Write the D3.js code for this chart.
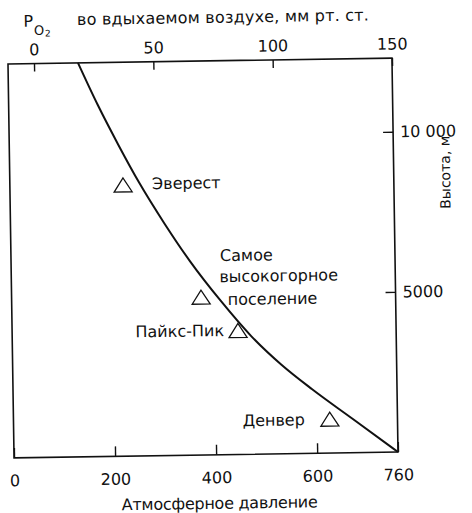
<!DOCTYPE html>
<html>
<head>
<meta charset="utf-8">
<script src="https://cdn.jsdelivr.net/npm/d3@7"></script>
<style>
  html, body { margin: 0; padding: 0; background: #fff; }
  svg { display: block; }
  text { font-family: "DejaVu Sans", sans-serif; fill: #111; }
</style>
</head>
<body>
<svg id="chart" width="472" height="513"></svg>
<script>
// ---- data ----
const pressureTicks = [0, 200, 400, 600, 760];
const po2Ticks = [0, 50, 100, 150];
const altitudeTicks = [5000, 10000];
const altitudeTickLabels = ["5000", "10 000"];
const curvePressure = [138.5, 176, 216, 255, 305, 354, 414, 473, 532, 592, 671, 760];
const curveAltitude = [12300, 10990, 9720, 8560, 7240, 6060, 4800, 3690, 2780, 2000, 1060, 0];
const siteNames = [["Эверест"], ["Самое", "высокогорное", "поселение"], ["Пайкс-Пик"], ["Денвер"]];
const sitePressure = [224, 375, 447, 626];
const siteAltitude = [8470, 4930, 3870, 1060];
const titleTop = "во вдыхаемом воздухе, мм рт. ст.";
const titleBottom = "Атмосферное давление";
const titleRight = "Высота, м";

// ---- layout ----
const L = 11, R = 395, T = 61, B = 455;
const svg = d3.select("#chart");
const root = svg.append("g").attr("transform", "rotate(-0.88, 203, 258)");

const x = d3.scaleLinear().domain([0, 760]).range([L, R]);
const xTop = d3.scaleLinear().domain([0, 150]).range([37, R]);
const y = d3.scaleLinear().domain([0, 12300]).range([B, T]);

// box
root.append("rect").attr("x", L).attr("y", T).attr("width", R - L).attr("height", B - T)
  .attr("fill", "none").attr("stroke", "#111").attr("stroke-width", 1.6);

function styleAxis(g) {
  g.select(".domain").remove();
  g.selectAll(".tick line").attr("stroke", "#111").attr("stroke-width", 1.4);
  g.selectAll(".tick text").attr("font-size", 16).attr("font-family", "DejaVu Sans, sans-serif").attr("fill", "#111");
}

root.append("g").attr("transform", `translate(0,${B})`)
  .call(d3.axisBottom(x).tickValues(pressureTicks).tickFormat(d3.format("d")).tickSize(-10).tickSizeOuter(0).tickPadding(17))
  .call(styleAxis);

root.append("g").attr("transform", `translate(0,${T})`)
  .call(d3.axisTop(xTop).tickValues(po2Ticks).tickFormat(d3.format("d")).tickSize(-8).tickSizeOuter(0).tickPadding(8.5))
  .call(styleAxis);

root.append("g").attr("transform", `translate(${R},0)`)
  .call(d3.axisRight(y).tickValues(altitudeTicks).tickFormat((d, i) => altitudeTickLabels[i]).tickSize(-10).tickSizeOuter(0).tickPadding(7))
  .call(styleAxis);

// curve
const curveData = curvePressure.map((p, i) => ({ p, h: curveAltitude[i] }));
root.append("path").datum(curveData)
  .attr("fill", "none").attr("stroke", "#111").attr("stroke-width", 2)
  .attr("d", d3.line().x(d => x(d.p)).y(d => y(d.h)).curve(d3.curveMonotoneX));

// sites
const labelLayout = [
  { anchor: "start", lines: [[29, 4.7]] },
  { anchor: "start", lines: [[19.6, -35.7], [18.6, -14.7], [26.6, 8.3]] },
  { anchor: "end", lines: [[-14, 5.3]] },
  { anchor: "end", lines: [[-25, 5.7]] }
];
const sites = siteNames.map((n, i) => ({ n, p: sitePressure[i], h: siteAltitude[i], lay: labelLayout[i] }));
const sg = root.selectAll("g.site").data(sites).join("g").attr("class", "site");
sg.append("path")
  .attr("d", d => {
    const cx = x(d.p), cy = y(d.h);
    return `M${cx - 9},${cy + 7}L${cx + 9},${cy + 7}L${cx},${cy - 7}Z`;
  })
  .attr("fill", "none").attr("stroke", "#111").attr("stroke-width", 1.3).attr("stroke-linejoin", "miter");
sg.each(function (d) {
  const g = d3.select(this);
  d.n.forEach((line, j) => {
    g.append("text")
      .attr("x", x(d.p) + d.lay.lines[j][0])
      .attr("y", y(d.h) + d.lay.lines[j][1])
      .attr("text-anchor", d.lay.anchor)
      .attr("font-size", 16)
      .text(line);
  });
});

// titles
const pt = root.append("text").attr("x", 27).attr("y", 24).attr("font-size", 16);
pt.append("tspan").text("P");
pt.append("tspan").attr("x", 37.5).attr("y", 32.5).attr("font-size", 13).text("O");
pt.append("tspan").attr("x", 48.5).attr("y", 34).attr("font-size", 9).text("2");
root.append("text").attr("x", 80.6).attr("y", 23).attr("font-size", 16)
  .attr("textLength", 292).attr("lengthAdjust", "spacing").text(titleTop);
root.append("text").attr("x", 118).attr("y", 509).attr("font-size", 16)
  .attr("textLength", 196).attr("lengthAdjust", "spacing").text(titleBottom);
root.append("text").attr("transform", "translate(451.3,176) rotate(-90)")
  .attr("text-anchor", "middle").attr("font-size", 14).text(titleRight);
</script>
</body>
</html>
